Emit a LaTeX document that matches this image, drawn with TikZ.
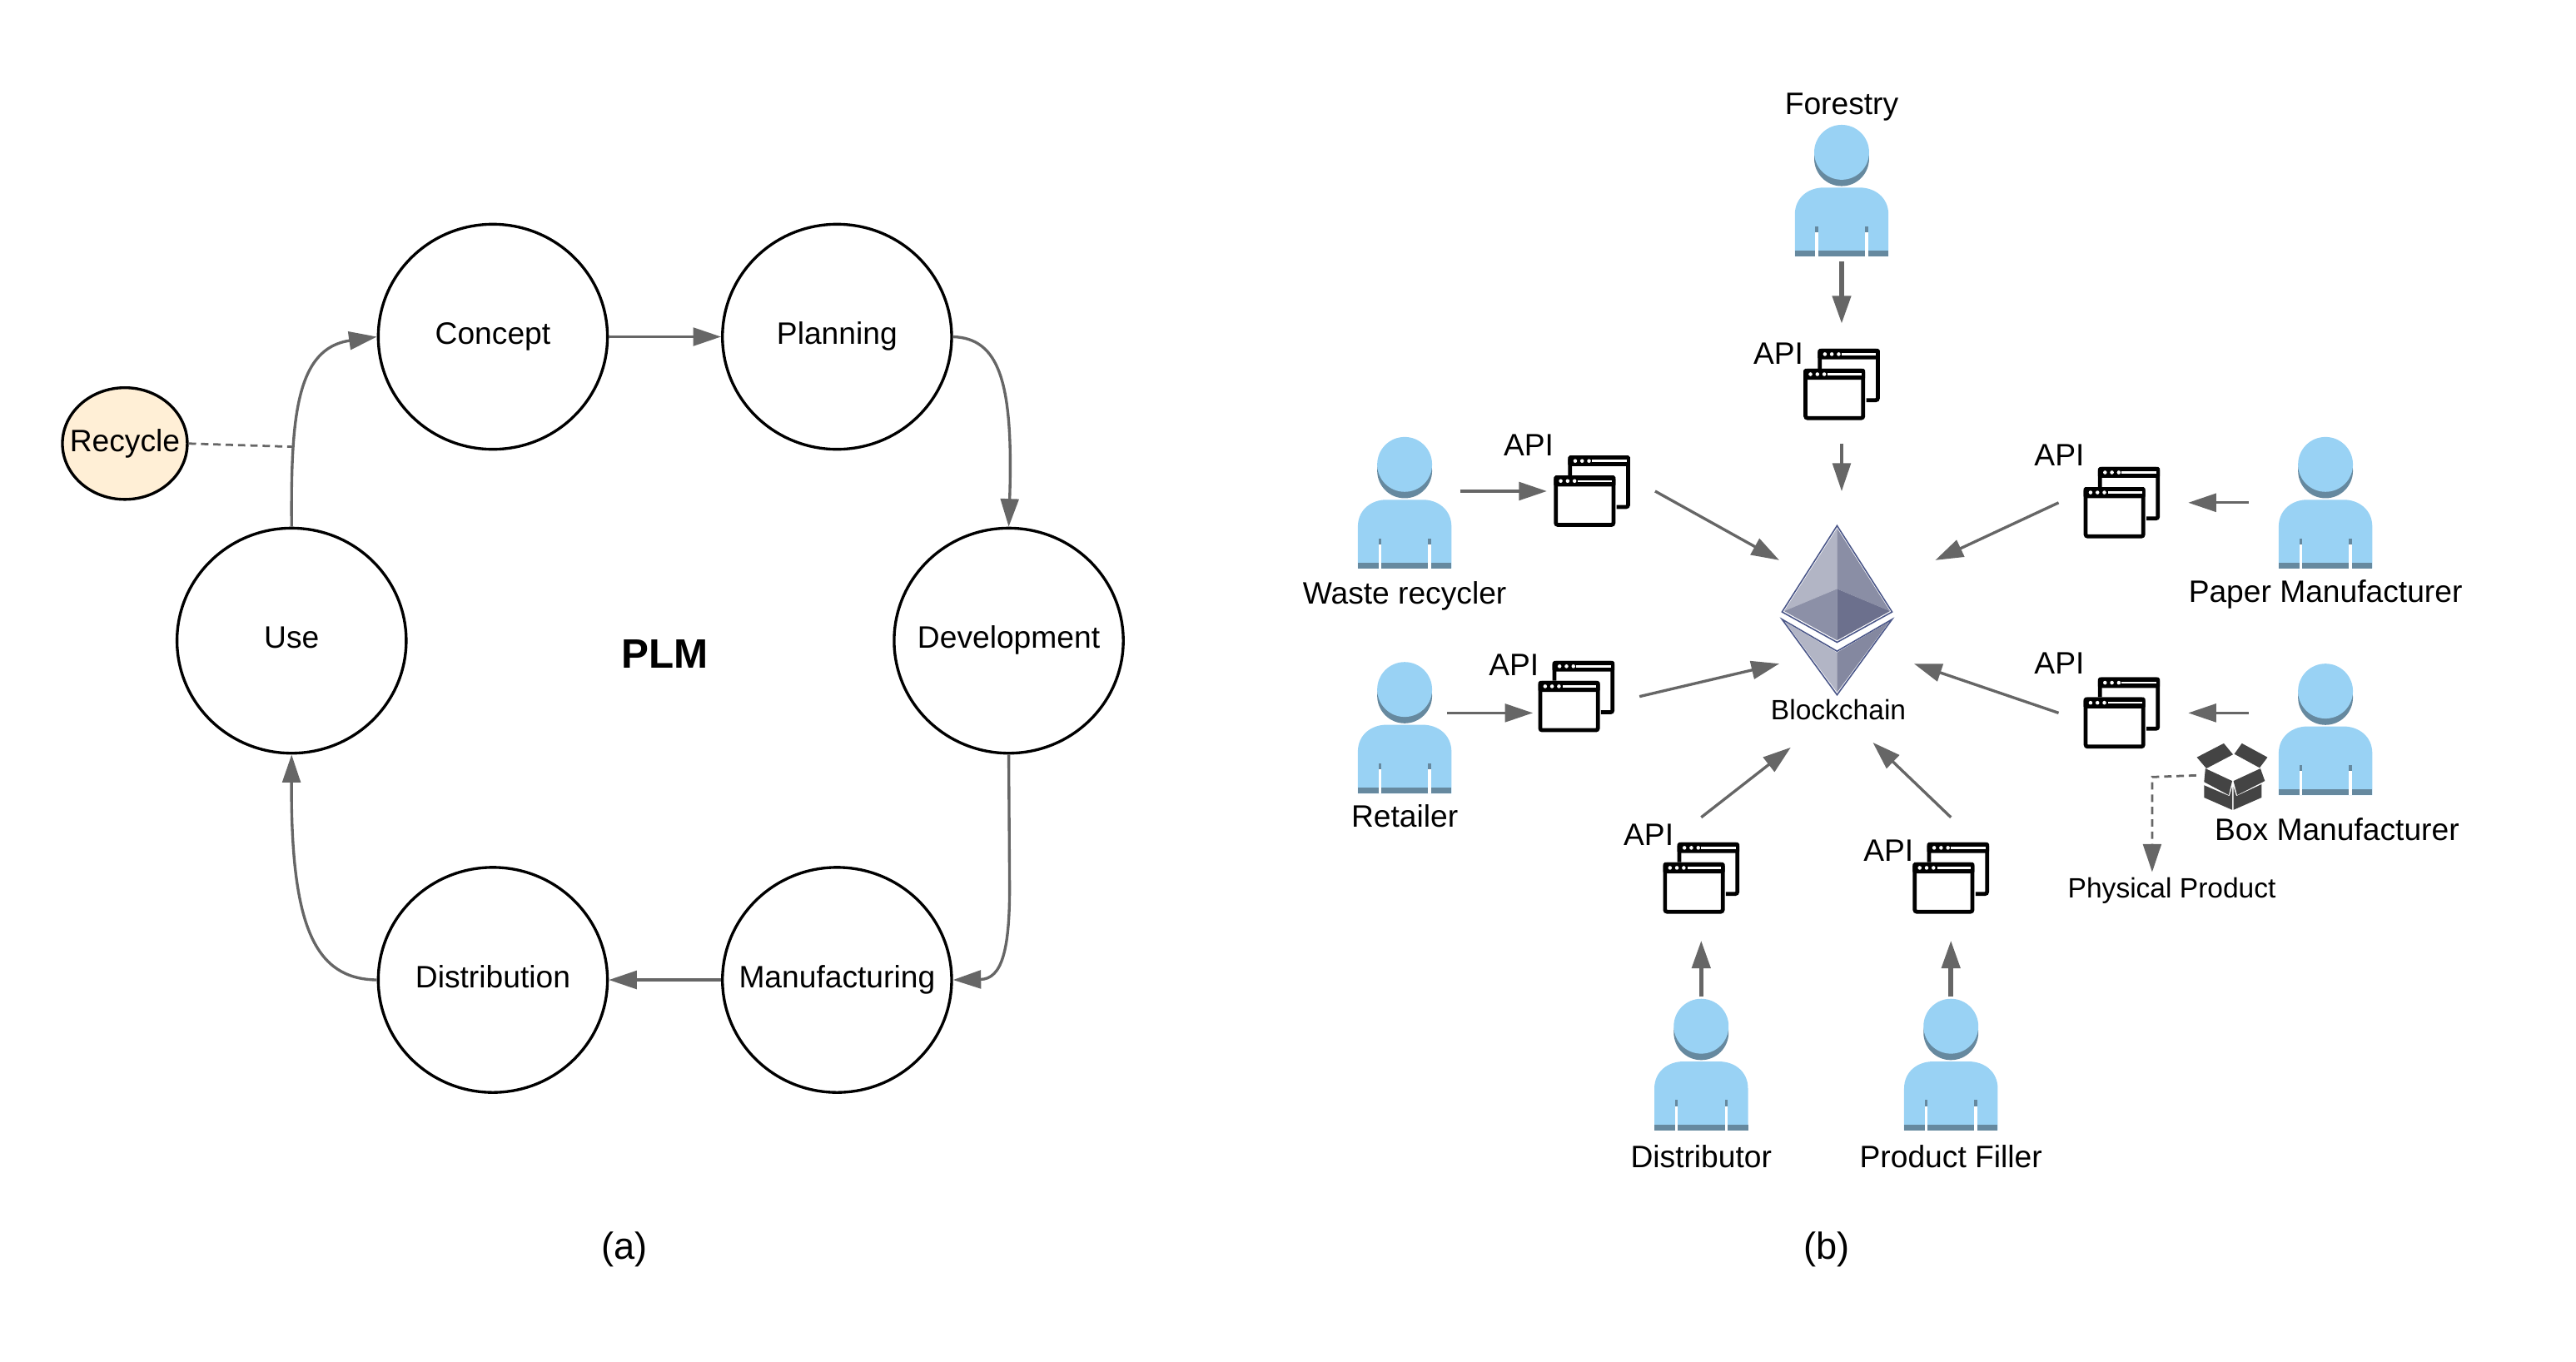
\documentclass[tikz,border=0pt]{standalone}
\usepackage{fontspec}
\setmainfont{Liberation Sans}
\usetikzlibrary{arrows.meta,positioning,shapes.geometric}
\definecolor{flowgray}{HTML}{666666}
\definecolor{actorlight}{HTML}{99D2F4}
\definecolor{actordark}{HTML}{66899F}
\definecolor{recyclefill}{HTML}{FFEFD6}
\definecolor{boxdark}{HTML}{444444}
\definecolor{ethline}{HTML}{4A5688}
\tikzset{
	txt/.style={font=\fontsize{18.85}{22}\selectfont,inner sep=0pt},
	smalltxt/.style={font=\fontsize{17}{20}\selectfont,inner sep=0pt},
	stage/.style={draw=black,line width=1.7pt,ellipse,minimum width=139.5pt,minimum height=137pt,txt,inner xsep=-30pt,text height=13.4pt,text depth=4pt},
	flow/.style={draw=flowgray,line width=1.7pt,-{Triangle[length=17pt,width=11pt]}},
	thickflow/.style={flow,line width=2.8pt},
	dashflow/.style={draw=flowgray,line width=1.4pt,dash pattern=on 4.5pt off 3pt},
	actorbox/.style={minimum width=57pt,minimum height=80pt,inner sep=0pt},
	apibox/.style={minimum width=46.5pt,minimum height=43.5pt,inner sep=0pt},
	actor/.pic={
		\fill[actordark] (0,-19.4) circle (16.7);
		\fill[actorlight] (0,-23.3) circle (16.7);
		\fill[actorlight] (-28.5,40) -- (-28.5,14.7) .. controls (-28.5,4) and (-20,-1.8) .. (-11,-1.8)
			-- (11,-1.8) .. controls (20,-1.8) and (28.5,4) .. (28.5,14.7) -- (28.5,40) -- cycle;
		\fill[actordark] (-28.5,36.6) rectangle (28.5,40);
		\foreach \sx in {-1,1}{
			\fill[actordark] (\sx*16,21.7) rectangle (\sx*14.3,25.3);
			\fill[white] (\sx*16,25.3) rectangle (\sx*14.3,40);
		}
	},
	apistack/.pic={
		\draw[line width=2.4pt,rounded corners=1.2pt] (-13.3,-9.6) -- (-13.3,-20.5) -- (22,-20.5) -- (22,9.6) -- (15,9.6);
		\fill[black,rounded corners=1pt] (-14.5,-21.7) rectangle (23.2,-15.2);
		\fill[white] (-0.2,-19) rectangle (21,-17.8);
		\foreach \dx in {-10.2,-6,-1.8}{\fill[white] (\dx,-18.4) circle (1.15);}
		\draw[line width=2.4pt,fill=white,rounded corners=1.2pt] (-22,-8.3) rectangle (13.1,20.5);
		\fill[black,rounded corners=1pt] (-23.2,-9.5) rectangle (14.3,-2.8);
		\fill[white] (-8.4,-6.8) rectangle (12.2,-5.6);
		\foreach \dx in {-19,-14.8,-10.6}{\fill[white] (\dx,-6.2) circle (1.15);}
	},
	openbox/.pic={
		\fill[boxdark] (-5.4,-19.5) -- (0.2,-12.7) -- (-16,-4.2) -- (-21.8,-11) -- cycle;
		\fill[boxdark] (5.6,-19.5) -- (21.2,-11) -- (16.4,-4.6) -- (1,-13) -- cycle;
		\fill[boxdark] (-16.6,-4.2) -- (-0.3,3.4) -- (-2.4,12) -- (-17.4,4) -- cycle;
		\fill[boxdark] (16.9,-4.2) -- (0.5,3.4) -- (2.7,12) -- (19.6,3.4) -- cycle;
		\fill[boxdark] (-17.4,6) -- (-2,12.6) -- (-0.3,7) -- (-0.3,21) -- (-17.4,13.5) -- cycle;
		\fill[boxdark] (17.6,5.4) -- (2.2,12.6) -- (0.5,7) -- (0.5,21) -- (17.6,13.5) -- cycle;
	},
	ethlogo/.pic={
		\draw[ethline,line width=0.8pt,fill=white,line join=miter] (0,0) -- (-33.5,52.5) -- (0,71) -- (33.5,52.5) -- cycle;
		\draw[ethline,line width=0.8pt,fill=white,line join=miter] (-33.5,57) -- (0,76.4) -- (33.5,57) -- (0,103) -- cycle;
		\fill[HTML=B2B5C5] (0,1.6) -- (-32.2,52) -- (0,38.5) -- cycle;
		\fill[HTML=8A8EA5] (0,1.6) -- (32.2,52) -- (0,38.5) -- cycle;
		\fill[HTML=8C90A7] (-32.2,52) -- (0,38.5) -- (0,69.8) -- cycle;
		\fill[HTML=6C708D] (32.2,52) -- (0,38.5) -- (0,69.8) -- cycle;
		\fill[HTML=B2B5C5] (-31.8,58.4) -- (0,77.2) -- (0,101.4) -- cycle;
		\fill[HTML=8488A0] (31.8,58.4) -- (0,77.2) -- (0,101.4) -- cycle;
	},
	HTML/.code={\definecolor{tmpfill}{HTML}{#1}\pgfkeysalso{color=tmpfill}}
}
\begin{document}
\begin{tikzpicture}[x=1pt,y=-1pt]
	\useasboundingbox (0,0) rectangle (1568,828.7);
	% (a) product life cycle
	\node[stage] (concept) at (300,205) {Concept};
	\node[stage] (planning) at (509.5,205) {Planning};
	\node[stage] (development) at (614,390) {Development};
	\node[stage] (manufacturing) at (509.5,596.5) {Manufacturing};
	\node[stage] (distribution) at (300,596.5) {Distribution};
	\node[stage] (use) at (177.5,390) {Use};
	\node[stage,fill=recyclefill,minimum width=76pt,minimum height=68pt,inner xsep=-25pt] (recycle) at (76,270) {Recycle};
	\node[font=\fontsize{25}{28}\selectfont\bfseries,inner sep=0pt] (plm) at (404.5,398) {PLM};
	\node[font=\fontsize{22.9}{26}\selectfont,inner sep=0pt] (capa) at (380,760.5) {(a)};
	\draw[flow] (concept.east) -- (planning.west);
	\draw[flow] (planning.east) .. controls (608,206) and (617,232) .. (development.north);
	\draw[flow] (development.south) -- (614.5,535) .. controls (615,578) and (610,596) .. (manufacturing.east);
	\draw[flow] (manufacturing.west) -- (distribution.east);
	\draw[flow] (distribution.west) .. controls (192,596) and (177,565) .. (use.south);
	\draw[flow] (use.north) .. controls (177,255) and (180,212) .. (concept.west);
	\coordinate (recyclejoin) at (178.5,272);
	\draw[dashflow] (recycle.east) -- (recyclejoin);
	% (b) blockchain network
	\foreach \name/\x/\y in {forestry/1121/116,waste/855/306,retailer/855/443,paper/1415.5/306,boxmaker/1415.5/444,distributor/1035.5/648,filler/1187.5/648}{
		\node[actorbox] (\name) at (\x,\y) {};
		\pic at (\name) {actor};
	}
	\foreach \name/\x/\y in {apiforestry/1121/234,apiwaste/969/299,apiretailer/959.5/424,apipaper/1291.5/306,apibox/1291.5/434,apidistributor/1035.5/534.5,apifiller/1187.5/534.5}{
		\node[apibox] (\name) at (\x,\y) {};
		\pic at (\name) {apistack};
	}
	\foreach \name/\x/\y/\tx in {tforestry/1121/65/Forestry,twaste/855/363/Waste recycler,tretailer/855/497/Retailer,tpaper/1415.5/362/Paper Manufacturer,tboxmaker/1422.5/505/Box Manufacturer,tdistributor/1035.5/704/Distributor,tfiller/1187.5/704/Product Filler,a1/1082.5/215/API,a2/930.5/271/API,a3/921.5/405/API,a4/1253.5/277/API,a5/1253.5/404/API,a6/1003.5/508/API,a7/1149.5/518/API}{
		\node[txt] (\name) at (\x,\y) {\tx};
	}
	\node[inner sep=0pt,minimum width=67pt,minimum height=103pt] (eth) at (1118.2,371.5) {};
	\pic at (1118.2,320) {ethlogo};
	\node[smalltxt] (tblockchain) at (1119,432) {Blockchain};
	\node[smalltxt] (tphysical) at (1322,542) {Physical Product};
	\node[inner sep=0pt,minimum width=44pt,minimum height=40pt] (carton) at (1359,472) {};
	\pic at (carton) {openbox};
	\node[font=\fontsize{22.9}{26}\selectfont,inner sep=0pt] (capb) at (1112,760.5) {(b)};
	\coordinate (ethn) at (1121,299);
	\coordinate (ethnw) at (1083,341);
	\coordinate (ethw) at (1083,404);
	\coordinate (ethsw) at (1090,455);
	\coordinate (ethse) at (1140,452);
	\coordinate (ethe) at (1165,404);
	\coordinate (ethne) at (1178,341);
	\coordinate (cartonbend) at (1310,473);
	\draw[thickflow] ([yshift=-3pt]forestry.south) -- ([yshift=15pt]apiforestry.north);
	\draw[flow] ([yshift=-14pt]apiforestry.south) -- (ethn);
	\draw[flow] ([xshift=5pt]apiwaste.west -| waste.east) -- ([xshift=-4pt]apiwaste.west);
	\draw[flow] ([xshift=15pt]apiwaste.east) -- (ethnw);
	\draw[flow] ([xshift=-3pt,yshift=9pt]retailer.east) -- ([xshift=-3pt,yshift=-10pt]apiretailer.west);
	\draw[flow] ([xshift=15pt]apiretailer.east) -- (ethw);
	\draw[thickflow] ([yshift=1pt]distributor.north) -- ([yshift=-16pt]apidistributor.south);
	\draw[flow] ([yshift=15pt]apidistributor.north) -- (ethsw);
	\draw[thickflow] ([yshift=1pt]filler.north) -- ([yshift=-16pt]apifiller.south);
	\draw[flow] ([yshift=15pt]apifiller.north) -- (ethse);
	\draw[flow] ([xshift=-18pt]apipaper.east -| paper.west) -- ([xshift=17pt]apipaper.east);
	\draw[flow] ([xshift=-15pt]apipaper.west) -- (ethne);
	\draw[flow] ([xshift=-18pt]apibox.east -| boxmaker.west) -- ([xshift=17pt]apibox.east);
	\draw[flow] ([xshift=-15pt]apibox.west) -- (ethe);
	\draw[dashflow,-{Triangle[length=17pt,width=11pt]}] (carton.west) -- (cartonbend) -- ([yshift=3pt]tphysical.north -| cartonbend);
\end{tikzpicture}
\end{document}
